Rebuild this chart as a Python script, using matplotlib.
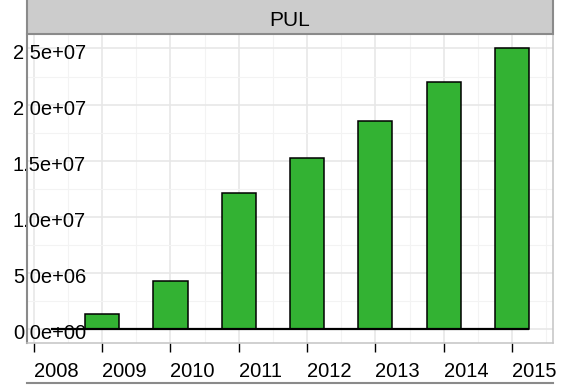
import matplotlib
matplotlib.use("Agg")
import matplotlib.pyplot as plt
from matplotlib.patches import Rectangle
from matplotlib.lines import Line2D
from matplotlib.ticker import MultipleLocator, FuncFormatter
from matplotlib.transforms import ScaledTranslation

plt.rcParams['font.family'] = ['Liberation Sans', 'DejaVu Sans']

# Data
facet = "PUL"
years = [2009, 2010, 2011, 2012, 2013, 2014, 2015]
values = [1.29e6, 4.31e6, 12.08e6, 15.28e6, 18.55e6, 22.05e6, 25.04e6]
tick_years = [2008, 2009, 2010, 2011, 2012, 2013, 2014, 2015]
y_ticks = [0, 5e6, 1e7, 1.5e7, 2e7, 2.5e7]

W, H = 563, 385
fig = plt.figure(figsize=(W / 100, H / 100), dpi=100)

# panel geometry in pixels
px_l, px_r, px_t, px_b = 27, 553, 34, 343
ax = fig.add_axes([px_l / W, (H - px_b) / H, (px_r - px_l) / W, (px_b - px_t) / H])

bar_w = 0.5
ax.bar(years, values, width=bar_w, color='#33b233', edgecolor='black',
       linewidth=1.1, zorder=3)
ax.hlines(0, tick_years[0] + bar_w / 2, years[-1] + bar_w / 2,
          color='black', linewidth=1.6, zorder=4)

ymax = max(values)
ax.set_ylim(-0.05 * ymax, 1.05 * ymax)
ax.set_xlim(2007.9, 2015.6)

# grid
ax.set_xticks(tick_years)
ax.xaxis.set_minor_locator(MultipleLocator(0.5))
ax.set_yticks(y_ticks)
ax.yaxis.set_minor_locator(MultipleLocator(2.5e6))
ax.grid(which='major', color='#e6e6e6', linewidth=1.1, zorder=0)
ax.grid(which='minor', color='#f3f3f3', linewidth=0.8, zorder=0)
ax.set_axisbelow(True)

ax.yaxis.set_major_formatter(FuncFormatter(lambda v, p: f"{v:.1e}"))
ax.tick_params(axis='y', which='both', length=0, pad=10.1, labelsize=14.5,
               labelcolor='black')
shift_down = ScaledTranslation(0, -3 / 100, fig.dpi_scale_trans)
for lbl in ax.get_yticklabels():
    lbl.set_horizontalalignment('left')
    lbl.set_transform(lbl.get_transform() + shift_down)
ax.tick_params(axis='x', which='major', length=6.5, width=1.0, color='black',
               pad=7, labelsize=14.5, labelcolor='black')
ax.tick_params(axis='x', which='minor', length=0)
for lbl in ax.get_xticklabels():
    lbl.set_horizontalalignment('left')

for side in ['top', 'right', 'bottom']:
    ax.spines[side].set_color('#c4c4c4')
    ax.spines[side].set_linewidth(1.1)
ax.spines['left'].set_color('#8a8a8a')
ax.spines['left'].set_linewidth(1.5)

# facet strip
strip = Rectangle((px_l / W, (H - px_t) / H), (px_r - px_l) / W, px_t / H + 0.01,
                  transform=fig.transFigure, facecolor='#cccccc',
                  edgecolor='#8a8a8a', linewidth=1.5, clip_on=False)
fig.add_artist(strip)
fig.text((px_l + px_r) / 2 / W, (H - 20) / H, facet, ha='center', va='center',
         fontsize=15, color='black')

# bottom axis rule
fig.add_artist(Line2D([px_l / W, px_r / W], [2 / H, 2 / H],
                      transform=fig.transFigure, color='#8a8a8a', linewidth=1.5))

fig.savefig("out.png", dpi=100)
